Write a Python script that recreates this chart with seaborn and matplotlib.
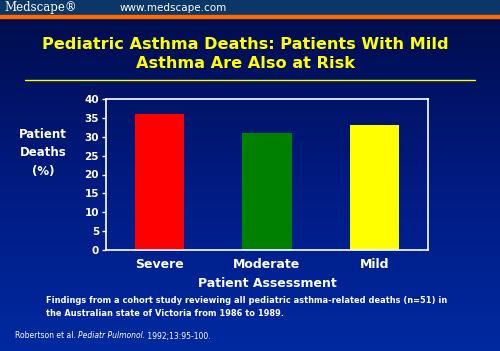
import numpy as np
import pandas as pd
import matplotlib
matplotlib.use("Agg")
import matplotlib.pyplot as plt
from matplotlib.colors import LinearSegmentedColormap
import seaborn as sns

CATEGORIES = ["Severe", "Moderate", "Mild"]
DEATHS_PCT = [36, 31, 33]
BAR_COLORS = ["#ff0000", "#008000", "#ffff00"]
Y_TICKS = [0, 5, 10, 15, 20, 25, 30, 35, 40]

sns.set_style("white")
plt.rcParams['font.family'] = ['DejaVu Sans']

W, H = 500, 351
fig = plt.figure(figsize=(W / 100, H / 100), dpi=100)

# background gradient (dark navy at top -> blue at bottom)
bg = fig.add_axes([0, 0, 1, 1])
bg.set_axis_off()
cmap = LinearSegmentedColormap.from_list("bg", ["#000b48", "#001a80", "#0029a0"])
grad = np.linspace(0, 1, 256).reshape(-1, 1)
bg.imshow(grad, aspect="auto", cmap=cmap, extent=[0, 1, 0, 1], origin="upper")
bg.set_xlim(0, 1)
bg.set_ylim(0, 1)

# header band + orange rule
bg.add_patch(plt.Rectangle((0, 1 - 15 / H), 1, 15 / H, color="#0b3668", zorder=2))
bg.add_patch(plt.Rectangle((0, 1 - 18 / H), 1, 3 / H, color="#ff6a00", zorder=2))
# yellow line under title
bg.plot([25 / W, 475 / W], [1 - 80 / H, 1 - 80 / H], color="#ffff00", lw=1.0, zorder=3)

fig.text(4 / W, 1 - 8 / H, "Medscape®", family="DejaVu Serif", color="white",
         fontsize=8.5, va="center", ha="left")
fig.text(120 / W, 1 - 8 / H, "www.medscape.com", color="white", fontsize=7.5,
         va="center", ha="left")

fig.text(0.49, 1 - 54 / H, "Pediatric Asthma Deaths: Patients With Mild\nAsthma Are Also at Risk",
         color="#ffff00", fontsize=11.6, fontweight="bold", ha="center", va="center",
         linespacing=1.4)

# main chart
left, right, top, bottom = 106, 428, 99, 250
ax = fig.add_axes([left / W, 1 - bottom / H, (right - left) / W, (bottom - top) / H])
ax.patch.set_visible(False)
df = pd.DataFrame({"cat": CATEGORIES, "val": DEATHS_PCT})
sns.barplot(data=df, x="cat", y="val", hue="cat", palette=BAR_COLORS, legend=False,
            width=0.46, saturation=1, linewidth=0, edgecolor="none", ax=ax)
ax.set_xlim(-0.5, 2.5)
ax.set_ylim(0, 40)
ax.set_yticks(Y_TICKS)
for s in ax.spines.values():
    s.set_color("white")
    s.set_linewidth(1.2)
ax.tick_params(axis="y", colors="white", length=3, width=1, labelsize=7.5, pad=2, left=True)
ax.tick_params(axis="x", colors="white", length=0, labelsize=9, pad=6)
for lbl in ax.get_yticklabels():
    lbl.set_fontweight("bold")
for lbl in ax.get_xticklabels():
    lbl.set_fontweight("bold")
ax.set_xlabel("Patient Assessment", color="white", fontsize=9, fontweight="bold", labelpad=4)
ax.set_ylabel("")
fig.text(43 / W, 1 - 153 / H, "Patient\nDeaths\n(%)", color="white", fontsize=8.5,
         fontweight="bold", ha="center", va="center", linespacing=1.5)

fig.text(46 / W, 1 - 307 / H,
         "Findings from a cohort study reviewing all pediatric asthma-related deaths (n=51) in\n"
         "the Australian state of Victoria from 1986 to 1989.",
         color="white", fontsize=5.95, fontweight="bold", ha="left", va="center", linespacing=1.45)

t1 = fig.text(15 / W, 1 - 336 / H, "Robertson et al. ", color="white", fontsize=5.5,
              ha="left", va="center")
fig.canvas.draw()
r = fig.canvas.get_renderer()
bb = t1.get_window_extent(r)
t2 = fig.text(bb.x1 / W, 1 - 336 / H, "Pediatr Pulmonol.", color="white", fontsize=5.5,
              style="italic", ha="left", va="center")
bb2 = t2.get_window_extent(r)
fig.text(bb2.x1 / W, 1 - 336 / H, " 1992;13:95-100.", color="white", fontsize=5.5,
         ha="left", va="center")

fig.savefig("out.png", dpi=100)
